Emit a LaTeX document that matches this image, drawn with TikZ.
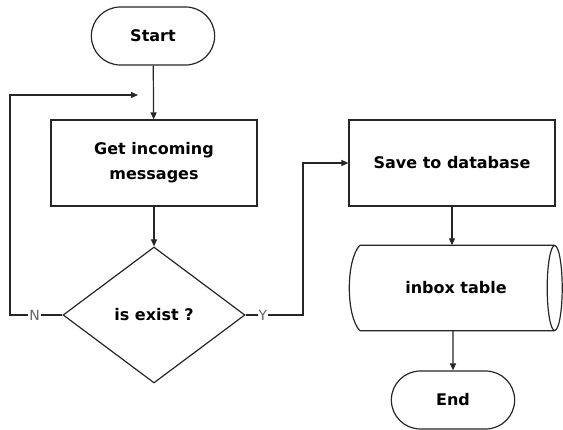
\documentclass[tikz,border=0pt]{standalone}
\usepackage{fontspec}
\setmainfont{DejaVu Sans}
\usepackage{tikz}
\usetikzlibrary{shapes}
\usetikzlibrary{shapes.misc}
\usetikzlibrary{shapes.geometric}
\usetikzlibrary{positioning}
\usetikzlibrary{calc}
\usetikzlibrary{arrows.meta}
\tikzset{
    termnode/.style = {rounded rectangle, line width=1.2pt, draw=black!85, align=center, fill=white, minimum width=130pt, minimum height=58pt, font=\bfseries\fontsize{16}{25}\selectfont, text=black},
    procnode/.style = {rectangle, line width=1.2pt, draw=black!85, align=center, fill=white, minimum width=206pt, minimum height=86pt, font=\bfseries\fontsize{16}{25}\selectfont, text=black},
    decnode/.style = {diamond, line width=1.2pt, draw=black!85, align=center, fill=white, minimum width=182pt, minimum height=136pt, inner sep=0pt, font=\bfseries\fontsize{16}{25}\selectfont, text=black},
    datanode/.style = {rectangle, align=center, minimum width=212pt, minimum height=85pt, font=\bfseries\fontsize{16}{25}\selectfont, text=black},
    dataline/.style = {line width=1.2pt, draw=black!85},
    edgen/.style = {-{Triangle[length=7pt,width=6pt]}, line width=1.2pt, black!85},
    yn/.style = {fill=white, inner sep=1pt, font=\fontsize{14}{14}\selectfont, text=black!60}
}
\begin{document}
\begin{tikzpicture}[x=1pt,y=-1pt]
\useasboundingbox (0,0) rectangle (563,430);
\node[termnode] at (153, 36) (start) {Start};
\node[procnode] at (154,163) (get) {Get incoming\\messages};
\node[decnode] at (154,315) (exist) {is exist ?};
\node[procnode] at (452,163) (save) {Save to database};
\node[datanode] at (456,288) (inbox) {inbox table};
\node[termnode] at (453,400) (end) {End};

% stored data outline
\draw[dataline] ($(inbox.north west)+(10,0)$) -- ($(inbox.north east)+(-7.5,0)$)
    ($(inbox.south west)+(10,0)$) -- ($(inbox.south east)+(-7.5,0)$)
    ($(inbox.north west)+(10,0)$) .. controls ($(inbox.north west)+(-4,15)$) and ($(inbox.south west)+(-4,-15)$) .. ($(inbox.south west)+(10,0)$);
\draw[dataline] ($(inbox.east)+(-7.5,0)$) ellipse [x radius=7.5pt, y radius=42.5pt];

\coordinate (nturn) at (10,95);
\coordinate (loop) at (138,95);
\coordinate (yturn) at (303,163);

\draw[edgen] (start) -- (get);
\draw[edgen] (get) -- (exist);
\draw[edgen] (exist.west) -- node[yn,pos=.53] {N} (exist.west -| nturn) -- (nturn) -- (loop);
\draw[edgen] (exist.east) -- node[yn,pos=.3] {Y} (exist.east -| yturn) |- (save.west);
\draw[edgen] (save.south) -- (save.south |- inbox.north);
\draw[edgen] (end |- inbox.south) -- (end);

\end{tikzpicture}
\end{document}
